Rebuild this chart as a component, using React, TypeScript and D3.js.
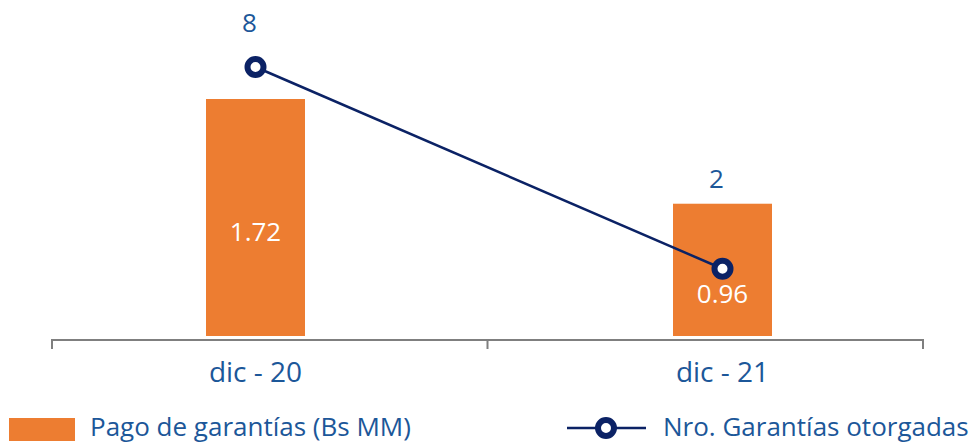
import React from "react";
import * as d3 from "d3";

const categories = ["dic - 20", "dic - 21"];
const pagoGarantias = [1.72, 0.96];
const nroGarantias = [8, 2];
const barLabels = ["1.72", "0.96"];
const lineLabels = ["8", "2"];
const legendNames = ["Pago de garantías (Bs MM)", "Nro. Garantías otorgadas"];

const W = 969;
const H = 443;
const ORANGE = "#ED7D31";
const NAVY = "#0B2265";
const TEXT = "#1C5799";
const FONT = "'Open Sans', 'DejaVu Sans', sans-serif";

export default function App() {
  const axisScale = d3.scaleBand<string>().domain(categories).range([52, 923]).padding(0);
  const centers = d3.scalePoint<string>().domain(categories).range([255.5, 722.5]);
  const barW = 99;
  const baseY = 336;
  const yBar = d3.scaleLinear().domain([0, 1.72]).range([baseY, 99]);
  const yLine = d3.scaleLinear().domain([0, 8]).range([baseY, 67]);

  const pts: [number, number][] = categories.map((c, i) => [centers(c)!, yLine(nroGarantias[i])]);
  const lineGen = d3.line();

  const tickXs = [axisScale(categories[0])!, ...categories.map((c) => axisScale(c)! + axisScale.bandwidth())];
  const axisY = 340;

  return (
    <svg width={W} height={H} style={{ position: "absolute", left: 0, top: 0 }}>
      {/* bars */}
      {categories.map((c, i) => (
        <rect key={c} x={centers(c)! - barW / 2} y={yBar(pagoGarantias[i])} width={barW}
          height={baseY - yBar(pagoGarantias[i])} fill={ORANGE} />
      ))}
      {/* axis */}
      <line x1={tickXs[0]} x2={tickXs[tickXs.length - 1]} y1={axisY} y2={axisY} stroke="#7f7f7f" strokeWidth={2} />
      {tickXs.map((x, i) => (
        <line key={i} x1={x} x2={x} y1={axisY - 1} y2={axisY + 9} stroke="#7f7f7f" strokeWidth={2} />
      ))}
      {categories.map((c) => (
        <text key={c} x={centers(c)!} y={382} textAnchor="middle" fontFamily={FONT} fontSize={28} fill={TEXT}>{c}</text>
      ))}
      {/* line */}
      <path d={lineGen(pts)!} fill="none" stroke={NAVY} strokeWidth={2.5} />
      {pts.map((p, i) => (
        <circle key={i} cx={p[0]} cy={p[1]} r={8} fill="#fff" stroke={NAVY} strokeWidth={6} />
      ))}
      {/* bar labels */}
      {categories.map((c, i) => {
        const top = yBar(pagoGarantias[i]);
        const py = pts[i][1];
        const inside = py > top && py < baseY;
        const y = inside ? py + 34 : (top + baseY) / 2 + 23;
        return (
          <text key={c} x={centers(c)!} y={y} textAnchor="middle" fontFamily={FONT} fontSize={26} fill="#fff">{barLabels[i]}</text>
        );
      })}
      {/* line labels */}
      {categories.map((c, i) => {
        const top = yBar(pagoGarantias[i]);
        const py = pts[i][1];
        const y = Math.min(py - 35, top - 16);
        return (
          <text key={c} x={centers(c)! - 6} y={y} textAnchor="middle" fontFamily={FONT} fontSize={26} fill={TEXT}>{lineLabels[i]}</text>
        );
      })}
      {/* legend */}
      <rect x={9} y={418} width={66} height={23} fill={ORANGE} />
      <text x={90} y={436} fontFamily={FONT} fontSize={26} fill={TEXT}>{legendNames[0]}</text>
      <line x1={567} x2={646} y1={428} y2={428} stroke={NAVY} strokeWidth={2.5} />
      <circle cx={606} cy={428} r={8} fill="#fff" stroke={NAVY} strokeWidth={6} />
      <text x={663} y={436} fontFamily={FONT} fontSize={26} fill={TEXT}>{legendNames[1]}</text>
    </svg>
  );
}
